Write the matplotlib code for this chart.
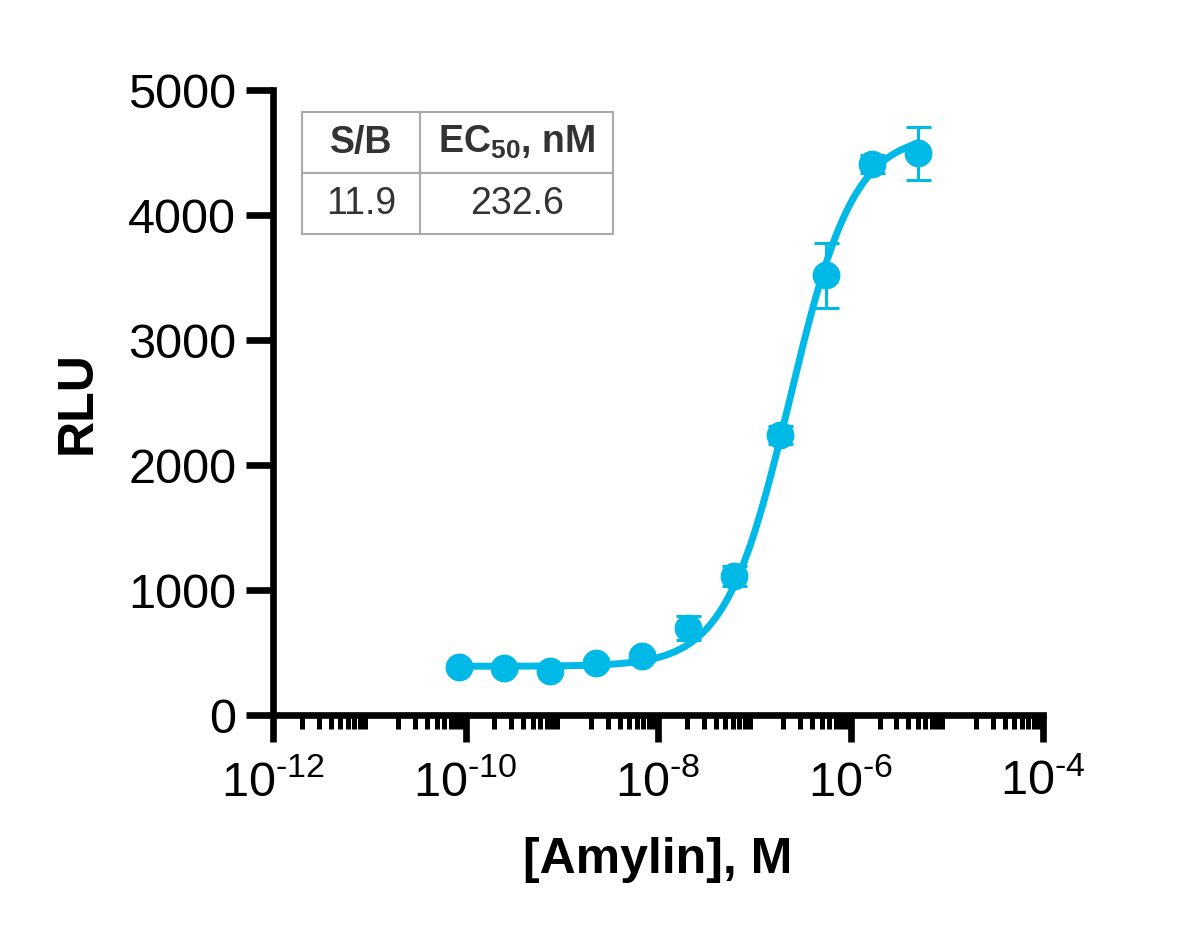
import numpy as np
import matplotlib
matplotlib.use("Agg")
import matplotlib.pyplot as plt
from matplotlib.ticker import LogLocator, FixedLocator, FuncFormatter, NullFormatter

plt.rcParams['font.family'] = ['Liberation Sans', 'DejaVu Sans']
plt.rcParams['mathtext.fontset'] = 'custom'
plt.rcParams['mathtext.rm'] = 'Liberation Sans'
plt.rcParams['mathtext.bf'] = 'Liberation Sans:bold'

# data
conc = [8.47e-11, 2.54e-10, 7.62e-10, 2.29e-9, 6.86e-9, 2.06e-8,
        6.17e-8, 1.85e-7, 5.56e-7, 1.667e-6, 5.0e-6]
rlu = [384, 376, 352, 416, 472, 696, 1112, 2240, 3520, 4408, 4496]
rlu_err = [0, 35, 0, 40, 36, 96, 80, 72, 260, 72, 212]

# 4PL fit parameters
fit_bottom = 390
fit_top = 4650
fit_ec50 = 232.6e-9
fit_hill = 1.3

table_header = ["S/B", r"EC$_{\mathbf{50}}$, nM"]
table_row = ["11.9", "232.6"]

color = '#00B9E6'

fig = plt.figure(figsize=(12, 9.32), dpi=100)
ax = fig.add_axes([0.2275, 0.2328, 0.6417, 0.6706])

xs = np.logspace(np.log10(conc[0]), np.log10(conc[-1]), 400)
ys = fit_bottom + (fit_top - fit_bottom) / (1 + (fit_ec50 / xs) ** fit_hill)
ax.plot(xs, ys, color=color, lw=5, zorder=2)
ax.errorbar(conc, rlu, yerr=rlu_err, fmt='o', color=color, ms=19,
            elinewidth=2.2, capsize=9, capthick=2.2, zorder=3)

ax.set_xscale('log')
ax.set_xlim(1e-12, 1e-4)
ax.set_ylim(0, 5000)
ax.set_yticks([0, 1000, 2000, 3000, 4000, 5000])
ax.xaxis.set_major_locator(FixedLocator([1e-12, 1e-10, 1e-8, 1e-6, 1e-4]))
ax.xaxis.set_minor_locator(LogLocator(base=10, subs=np.arange(2, 10), numticks=20))
ax.xaxis.set_minor_formatter(NullFormatter())
ax.xaxis.set_major_formatter(FuncFormatter(
    lambda v, p: r"$\mathregular{10^{\text{%d}}}$" % int(round(np.log10(v)))))

for s in ['top', 'right']:
    ax.spines[s].set_visible(False)
for s in ['left', 'bottom']:
    ax.spines[s].set_linewidth(4.8)
    ax.spines[s].set_capstyle('projecting')
ax.tick_params(which='major', length=19.5, width=4.8, labelsize=35)
ax.tick_params(which='minor', length=10, width=3.6)
ax.tick_params(axis='x', pad=13)
ax.tick_params(axis='y', pad=7)

ax.set_xlabel("[Amylin], M", fontsize=36, fontweight='bold', labelpad=22)
ax.set_ylabel("RLU", fontsize=36, fontweight='bold', labelpad=20)

tb = ax.table(cellText=[table_header, table_row], cellLoc='center',
              colWidths=[0.38, 0.62], bbox=[0.0377, 0.7696, 0.404, 0.1952])
tb.auto_set_font_size(False)
for (r, c), cell in tb.get_celld().items():
    cell.set_edgecolor('#aaaaaa')
    cell.set_linewidth(1.5)
    txt = cell.get_text()
    txt.set_fontsize(27)
    txt.set_color('#333333')
    if r == 0:
        txt.set_fontweight('bold')

fig.savefig("out.png", dpi=100)
